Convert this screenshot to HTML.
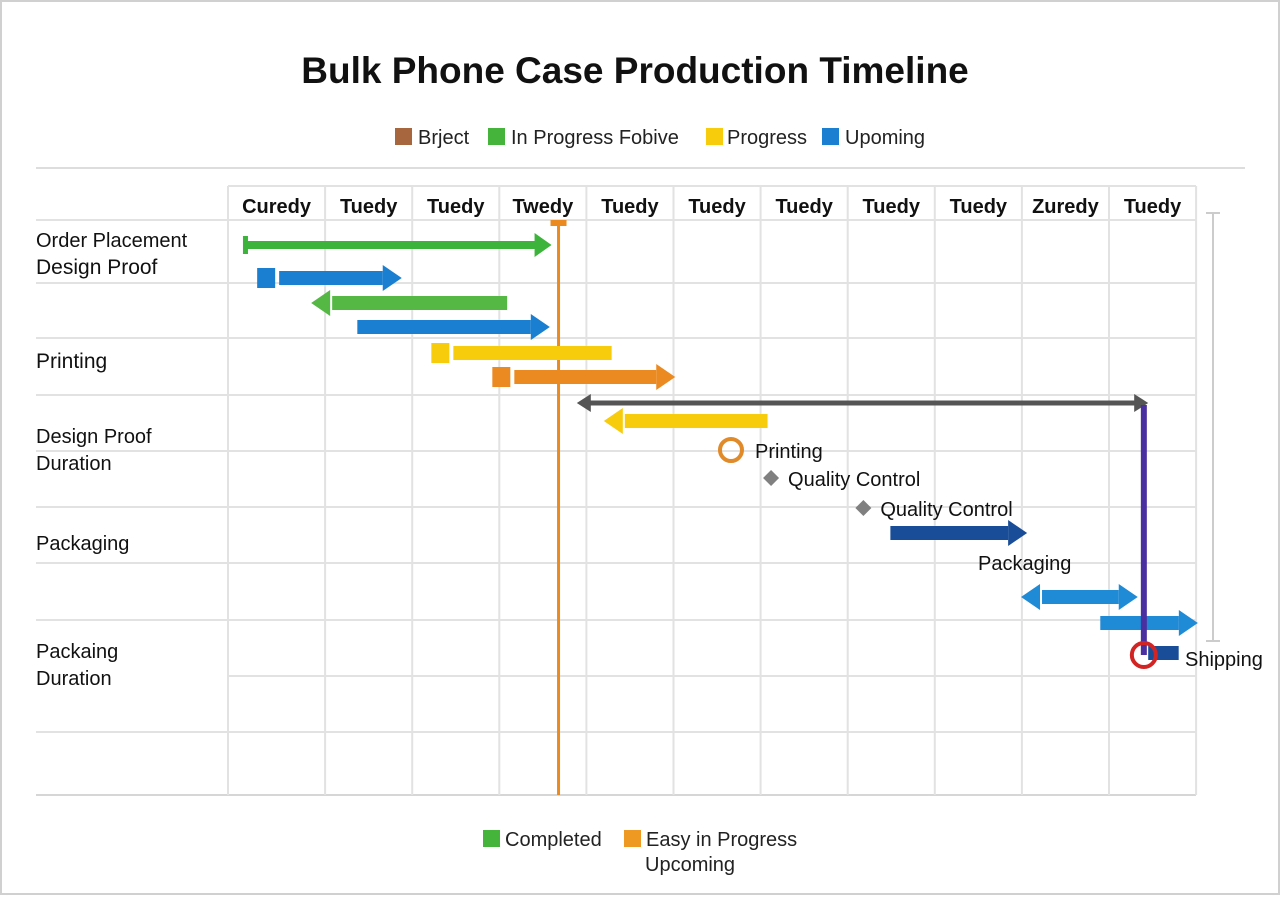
<!DOCTYPE html>
<html><head><meta charset="utf-8"><style>
html,body{margin:0;padding:0;background:#fff}
body{width:1280px;height:896px;overflow:hidden;font-family:"Liberation Sans",sans-serif}
svg text{font-family:"Liberation Sans",sans-serif}
</style></head><body>
<svg id="c" width="1280" height="896" viewBox="0 0 1280 896" xmlns="http://www.w3.org/2000/svg">
<rect x="1" y="1" width="1278" height="893" fill="#fff" stroke="#d0d0d0" stroke-width="2"/>
<text x="635" y="83" text-anchor="middle" font-size="37" font-weight="bold" fill="#111">Bulk Phone Case Production Timeline</text>
<g font-size="20" fill="#222">
<rect x="395" y="128" width="17" height="17" fill="#a8663e"/><text x="418" y="144">Brject</text>
<rect x="488" y="128" width="17" height="17" fill="#44b53a"/><text x="511" y="144">In Progress Fobive</text>
<rect x="706" y="128" width="17" height="17" fill="#f7cc0c"/><text x="727" y="144">Progress</text>
<rect x="822" y="128" width="17" height="17" fill="#1a7fd1"/><text x="845" y="144">Upoming</text>
</g>
<line x1="36" y1="168" x2="1245" y2="168" stroke="#ddd" stroke-width="2"/>
<g id="grid"></g>
<g id="labels" font-size="20" fill="#111">
<text x="36" y="247">Order Placement</text>
<text x="36" y="274" font-size="21">Design Proof</text>
<text x="36" y="368" font-size="21">Printing</text>
<text x="36" y="443">Design Proof</text>
<text x="36" y="470">Duration</text>
<text x="36" y="550">Packaging</text>
<text x="36" y="658">Packaing</text>
<text x="36" y="685">Duration</text>
</g>
<g id="marks"></g>
<g font-size="20" fill="#222">
<rect x="483" y="830" width="17" height="17" fill="#44b53a"/><text x="505" y="846">Completed</text>
<rect x="624" y="830" width="17" height="17" fill="#ee9a22"/><text x="646" y="846">Easy in Progress</text>
<text x="645" y="871">Upcoming</text>
</g>
</svg>
<script>
const columnLabels=["Curedy","Tuedy","Tuedy","Twedy","Tuedy","Tuedy","Tuedy","Tuedy","Tuedy","Zuredy","Tuedy"];
const taskStarts=[0.08,0.22,0.84,1.37,2.22,2.92,3.89,4.2,7.49,8.99,9.9,10.45];
const taskEnds=[3.6,1.88,3.09,3.58,4.29,5.02,10.45,6.08,9.06,10.33,11.02,10.8];
const taskRows=[245,278,303,327,353,377,403,421,533,597,623,653];
const taskKinds=["capR","sqR","L","R","sq","sqR","dbl","L","R","LR","R","bar"];
const taskColors=["#3cb33a","#1a7fd1","#55b844","#1a7fd1","#f7cc0c","#ec8a22","#555","#f7cc0c","#1a4d98","#1f8ad6","#1f8ad6","#1a4d98"];
const milestoneDays=[5.66,6.12,7.18];
const milestoneRows=[450,478,508];
const milestoneLabels=["Printing","Quality Control","Quality Control"];
const todayDay=3.68;
const connectorDay=10.4;
const NS="http://www.w3.org/2000/svg";
const x=d=>238+d*87.1;
function mk(p,t,a){const e=document.createElementNS(NS,t);for(const k in a)e.setAttribute(k,a[k]);p.appendChild(e);return e;}
const grid=document.getElementById('grid'),marks=document.getElementById('marks');
const hl=[220,283,338,395,451,507,563,620,676,732];
hl.forEach((y,i)=>{const l=mk(grid,'line',{x1:(i==8?228:36),y1:y,x2:1196,y2:y,stroke:'#e2e2e2','stroke-width':2});

});
const bl=mk(grid,'line',{x1:36,y1:795,x2:1196,y2:795,stroke:'#d6d6d6','stroke-width':2});


const tl=mk(grid,'line',{x1:228,y1:186,x2:1196,y2:186,stroke:'#e2e2e2','stroke-width':2});


for(let i=0;i<=columnLabels.length;i++){const xx=i==0?228:x(i);
const v=mk(grid,'line',{x1:xx,y1:186,x2:xx,y2:795,stroke:'#e2e2e2','stroke-width':2});

}
columnLabels.forEach((c,i)=>{const cx=i==0?(228+x(1))/2:(x(i)+x(i+1))/2;
const t=mk(grid,'text',{x:cx,y:213,'text-anchor':'middle','font-size':20,'font-weight':'bold',fill:'#111'});t.textContent=c;

});
const rb=mk(grid,'path',{d:'M1206 213H1220M1213 213V641M1206 641H1220',stroke:'#ccc','stroke-width':2,fill:'none'});


const tx=x(todayDay);
const td=mk(marks,'line',{x1:tx,y1:222,x2:tx,y2:795,stroke:'#ec8a22','stroke-width':3});


const tc=mk(marks,'rect',{x:tx-8,y:220,width:16,height:6,fill:'#ec8a22'});


taskStarts.forEach((s,i)=>{
 const g=mk(marks,'g',{fill:taskColors[i]});
 
 
 const x1=x(s),x2=x(taskEnds[i]),y=taskRows[i],k=taskKinds[i],c=taskColors[i];
 if(k=='dbl'){mk(g,'line',{x1:x1+10,y1:y,x2:x2-10,y2:y,stroke:c,'stroke-width':5});
  mk(g,'path',{d:`M${x1} ${y}l14 -9v18z`});mk(g,'path',{d:`M${x2} ${y}l-14 -9v18z`});return;}
 if(k=='capR'){mk(g,'rect',{x:x1-2,y:y-9,width:5,height:18});mk(g,'rect',{x:x1,y:y-4,width:x2-x1-16,height:8});mk(g,'path',{d:`M${x2} ${y}l-17 -12v24z`});return;}
 if(k=='bar'){mk(g,'rect',{x:x1,y:y-7,width:x2-x1,height:14});return;}
 const h=14,aw=19,ah=13;let bx1=x1,bx2=x2;
 if(k.startsWith('sq')){mk(g,'rect',{x:x1,y:y-10,width:18,height:20});bx1=x1+22;}
 if(k=='L'||k=='LR'){mk(g,'path',{d:`M${x1} ${y}l${aw} -${ah}v${2*ah}z`});bx1=x1+aw+2;}
 if(k.endsWith('R')){mk(g,'path',{d:`M${x2} ${y}l-${aw} -${ah}v${2*ah}z`});bx2=x2-aw;}
 mk(g,'rect',{x:bx1,y:y-h/2,width:bx2-bx1,height:h});
});
const pv=mk(marks,'line',{x1:x(connectorDay),y1:405,x2:x(connectorDay),y2:655,stroke:'#4a2fa0','stroke-width':6});


const rc=mk(marks,'circle',{cx:x(connectorDay),cy:655,r:12,fill:'none',stroke:'#d32424','stroke-width':4});


const st=mk(marks,'text',{x:1185,y:666,'font-size':20,fill:'#111'});st.textContent='Shipping';


const pk=mk(marks,'text',{x:978,y:570,'font-size':20,fill:'#111'});pk.textContent='Packaging';


milestoneDays.forEach((d,i)=>{const cx=x(d),cy=milestoneRows[i];
 let m;
 if(i==0)m=mk(marks,'circle',{cx:cx,cy:cy,r:11,fill:'none',stroke:'#e08a2a','stroke-width':4});
 else m=mk(marks,'path',{d:`M${cx} ${cy-8}l8 8l-8 8l-8 -8z`,fill:'#808080'});
 
 
 const t=mk(marks,'text',{x:cx+(i==0?24:17),y:cy+8,'font-size':20,fill:'#111'});t.textContent=milestoneLabels[i];
 
 
});
</script>
</body></html>
